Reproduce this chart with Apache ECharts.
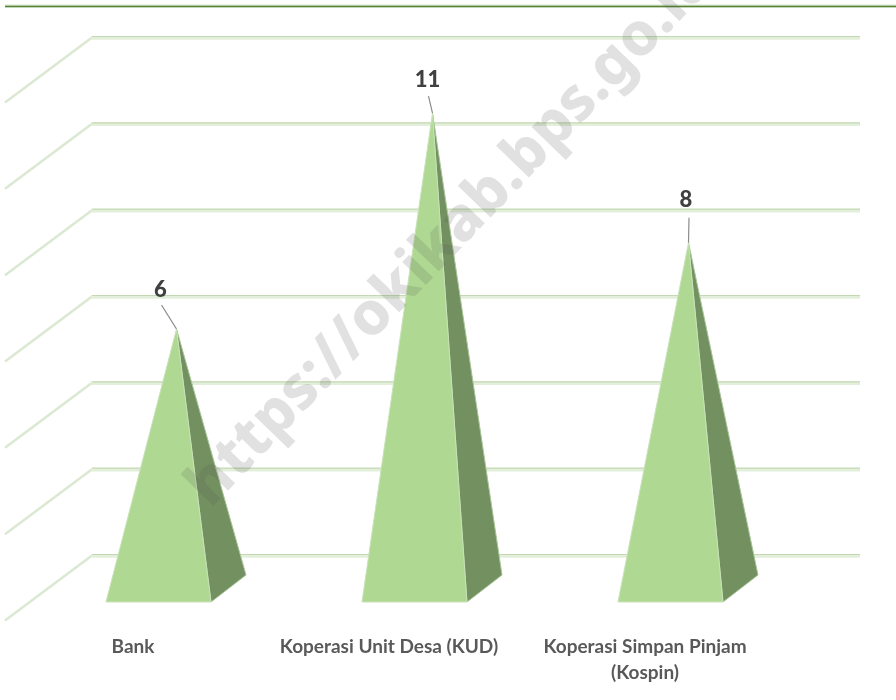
<!DOCTYPE html>
<html>
<head>
<meta charset="utf-8">
<style>html,body{margin:0;padding:0;background:#fff}#c{width:896px;height:700px}</style>
<script src="https://cdn.jsdelivr.net/npm/echarts@6/dist/echarts.min.js"></script>
</head>
<body>
<div id="c"></div>
<script>
const categories = ['Bank', 'Koperasi Unit Desa (KUD)', 'Koperasi Simpan Pinjam\n(Kospin)'];
const values = [6, 11, 8];
const gridValues = [0, 2, 4, 6, 8, 10, 12];
const watermark = 'https://okikab.bps.go.id';

// Oblique projection of the 3D chart, in pixels
const WALL_DX = 87, WALL_DY = -65;
const BASE = { left: -27, right: 78, backRight: 113, frontY: -18, backY: -45, apexX: 43.5, apexY: -32 };
const LEADERS = [
  { from: [-15, -24], text: [-16, -39] },
  { from: [-4, -17], text: [-5, -33] },
  { from: [0.5, -25], text: [-2.5, -43] }
];

const chart = echarts.init(document.getElementById('c'), null, { renderer: 'canvas' });

function renderWall(params, api) {
  const cs = params.coordSys;
  const y = api.coord([0, api.value(1)])[1];
  const side = [[cs.x, y + 0.5], [cs.x + WALL_DX, y + WALL_DY + 0.5]];
  const back = [[cs.x + WALL_DX - 1, y + WALL_DY + 1], [cs.x + cs.width + WALL_DX, y + WALL_DY + 1]];
  const backTop = [[cs.x + WALL_DX, y + WALL_DY - 0.5], [cs.x + cs.width + WALL_DX, y + WALL_DY - 0.5]];
  return {
    type: 'group',
    children: [
      { type: 'polyline', shape: { points: side }, style: { fill: 'none', stroke: '#dbe8d2', lineWidth: 2.5 } },
      { type: 'polyline', shape: { points: back }, style: { fill: 'none', stroke: '#e3efdb', lineWidth: 3.5 } },
      { type: 'polyline', shape: { points: backTop }, style: { fill: 'none', stroke: '#c3d9b4', lineWidth: 1.2 } }
    ]
  };
}

function renderPyramid(params, api) {
  const i = params.dataIndex;
  const base = api.coord([i, 0]);
  const top = api.coord([i, api.value(1)]);
  const cx = base[0], y0 = base[1];
  const apex = [cx + BASE.apexX, top[1] + BASE.apexY];
  const fl = [cx + BASE.left, y0 + BASE.frontY];
  const fr = [cx + BASE.right, y0 + BASE.frontY];
  const br = [cx + BASE.backRight, y0 + BASE.backY];
  const nudge = LEADERS[i];
  return {
    type: 'group',
    children: [
      { type: 'polygon', shape: { points: [fr, br, apex] },
        style: { fill: '#739060', stroke: '#a9c498', lineWidth: 1 } },
      { type: 'polygon', shape: { points: [fl, fr, apex] },
        style: { fill: '#afd992', stroke: '#c9e2b9', lineWidth: 1 } },
      { type: 'line', shape: { x1: apex[0] + nudge.from[0], y1: apex[1] + nudge.from[1], x2: apex[0], y2: apex[1] },
        style: { stroke: '#8c8c8c', lineWidth: 1.2 } },
      { type: 'text', x: apex[0] + nudge.text[0], y: apex[1] + nudge.text[1],
        style: { text: String(api.value(1)), fill: '#404040', font: '900 22px Lato', align: 'center', verticalAlign: 'middle' } }
    ]
  };
}

chart.setOption({
  animation: false,
  backgroundColor: '#ffffff',
  grid: { left: 5, width: 768, top: 102, height: 518, containLabel: false },
  xAxis: {
    type: 'category',
    data: categories,
    axisLine: { show: false },
    axisTick: { show: false },
    splitLine: { show: false },
    axisLabel: { margin: 14, color: '#595959', fontFamily: 'Lato', fontWeight: 'bold', fontSize: 19, lineHeight: 26, interval: 0 }
  },
  yAxis: { type: 'value', min: 0, max: 12, interval: 2, show: false },
  series: [
    { type: 'custom', name: 'walls', silent: true, clip: false, z: 1, renderItem: renderWall,
      encode: { x: 0, y: 1 }, data: gridValues.map(v => [0, v]) },
    { type: 'custom', name: 'Jumlah', silent: true, clip: false, z: 2, renderItem: renderPyramid,
      encode: { x: 0, y: 1 }, data: values.map((v, i) => [i, v]) }
  ],
  graphic: [
    { type: 'line', z: 50, shape: { x1: 5, y1: 6, x2: 896, y2: 6 }, style: { stroke: '#d5e3cb', lineWidth: 3 } },
    { type: 'line', z: 51, shape: { x1: 5, y1: 6.5, x2: 896, y2: 6.5 }, style: { stroke: '#548235', lineWidth: 1.5 } },
    { type: 'text', z: 100, x: 451, y: 234, rotation: 0.805, originX: 0, originY: 0,
      style: { text: watermark, font: '800 60px "Noto Sans"', fill: 'rgba(90,90,90,0.18)', align: 'center', verticalAlign: 'middle' } }
  ]
});
</script>
</body>
</html>
